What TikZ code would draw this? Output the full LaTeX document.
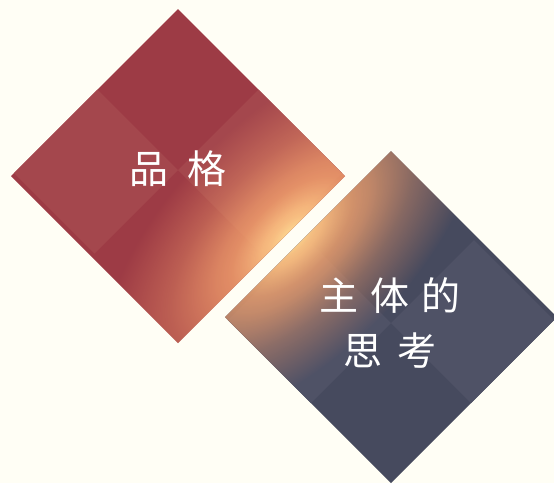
\documentclass[tikz,border=0pt]{standalone}
\usepackage{fontspec}
\newfontfamily\cjk{Noto Sans CJK SC}
\usetikzlibrary{fadings}
\definecolor{bg}{HTML}{FFFEF5}
\definecolor{redbase}{HTML}{9D3B45}
\definecolor{redlight}{HTML}{A4474D}
\definecolor{bluebase}{HTML}{464A5E}
\definecolor{bluelight}{HTML}{4F5266}
\definecolor{glowY}{HTML}{FFE196}
\definecolor{glowA}{HTML}{FBC283}
\definecolor{glowO}{HTML}{F4A36E}
\definecolor{glowE}{HTML}{EC9066}
\pgfdeclareradialshading{glowcol}{\pgfpointorigin}{color(0bp)=(glowY); color(3bp)=(glowA); color(8bp)=(glowO); color(25bp)=(glowE); color(50bp)=(glowE)}
\pgfdeclareradialshading{glowfadeshade}{\pgfpointorigin}{gray(0bp)=(1); gray(4bp)=(0.95); gray(10bp)=(0.72); gray(16bp)=(0.38); gray(25bp)=(0); gray(50bp)=(0)}
\pgfdeclarefading{glowfade}{\pgfuseshading{glowfadeshade}}
\tikzset{
  txt/.style={text=white, font=\cjk\fontsize{39}{55}\selectfont, inner sep=0pt},
}
\begin{document}
\begin{tikzpicture}[x=1pt,y=-1pt]
\useasboundingbox (0,0) rectangle (554,483);
\fill[bg] (0,0) rectangle (554,483);
% red diamond
\fill[redbase] (178,9) -- (345,176) -- (178,343) -- (11,176) -- cycle;
\begin{scope}
  \clip (178,9) -- (345,176) -- (178,343) -- (11,176) -- cycle;
  \fill[redlight] (178,170) -- (94.5,86.5) -- (11,170) -- (94.5,253.5) -- cycle;
  \fill[redlight] (178,170) -- (261.5,86.5) -- (345,170) -- (261.5,253.5) -- cycle;
\end{scope}
% blue diamond
\fill[bluebase] (391,151) -- (557,317) -- (391,483) -- (225,317) -- cycle;
\begin{scope}
  \clip (391,151) -- (557,317) -- (391,483) -- (225,317) -- cycle;
  \fill[bluelight] (391,323) -- (308,240) -- (225,323) -- (308,406) -- cycle;
  \fill[bluelight] (391,323) -- (474,240) -- (557,323) -- (474,406) -- cycle;
\end{scope}
% glow
\begin{scope}
  \clip (178,9) -- (345,176) -- (178,343) -- (11,176) -- cycle
        (391,151) -- (557,317) -- (391,483) -- (225,317) -- cycle;
  \begin{scope}[transform canvas={shift={(292,236)},rotate=45}]
    \shade[shading=glowcol, path fading=glowfade] (0,0) ellipse [x radius=240, y radius=120];
  \end{scope}
\end{scope}
% texts
\node[txt] (pinge) at (178,169) {品\hspace{19pt}格};
\node[txt, align=center] (sikao) at (390,323) {主\hspace{12pt}体\hspace{12pt}的\\思\hspace{16pt}考};
\end{tikzpicture}
\end{document}
